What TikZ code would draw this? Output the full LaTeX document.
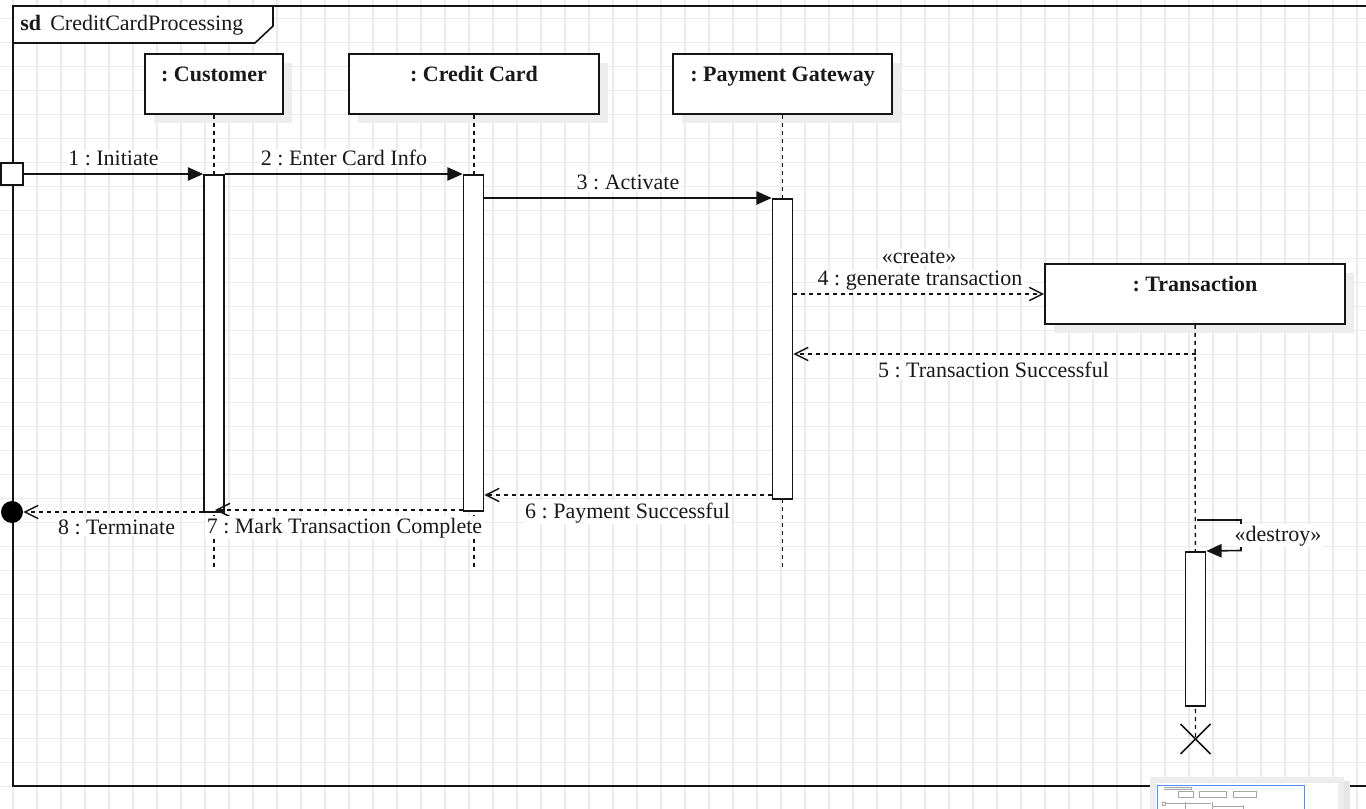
\documentclass[tikz,border=0pt]{standalone}
\usepackage{fontspec}
\setmainfont{Liberation Serif}
\usetikzlibrary{arrows.meta,calc,shadows}
\frenchspacing
\begin{document}
\begin{tikzpicture}[x=0.75pt,y=-0.75pt,
  every node/.style={font=\fontsize{16.5}{19}\selectfont, text=black!90},
  gridline/.style={draw=black!8, line width=1.05pt},
  line/.style={draw=black!92, line width=1.2pt},
  objbox/.style={line, fill=white, rectangle, inner sep=0pt, minimum height=60*0.75pt,
     general shadow={fill=black!7, shadow xshift=7pt, shadow yshift=-7pt}},
  objlabel/.style={anchor=base, font=\fontsize{16.5}{19}\selectfont\bfseries, inner sep=0pt},
  lifeline/.style={draw=black!92, line width=1.1pt, dash pattern=on 3pt off 3pt},
  act/.style={line, fill=white, rectangle, inner sep=0pt, minimum width=20*0.75pt, anchor=north},
  call/.style={line, -{Triangle[length=11.5pt, width=10pt]}},
  reply/.style={line, dash pattern=on 3pt off 3pt, -{Straight Barb[length=10pt, width=10pt, line width=1.1pt]}},
  lbl/.style={fill=white, inner sep=1pt, anchor=base},
]
\useasboundingbox (0,0) rectangle (1366,809);
\clip (0,0) rectangle (1366,809);
\fill[white] (0,0) rectangle (1366,809);

% grid
\foreach \x in {13,37,...,1366} \draw[gridline] (\x,0) -- (\x,809);
\foreach \y in {18.5,42.5,...,809} \draw[gridline] (0,\y) -- (1366,\y);

% frame
\draw[line] (13,6) -- (1400,6);
\draw[line] (13,6) -- (13,786) -- (1400,786);
\draw[line, fill=white] (13,6) -- (273,6) -- (273,26) -- (255,43) -- (13,43) -- cycle;
\node[anchor=base west, inner sep=0pt, font=\fontsize{16.5}{19}\selectfont\bfseries] (sd) at (20,31) {sd};
\node[anchor=base west, inner sep=0pt] (sdname) at (50,31) {CreditCardProcessing};

% lifeline heads
\node[objbox, minimum width=138*0.75pt] (cust) at (214,84) {};
\node[objbox, minimum width=250*0.75pt] (card) at (474,84) {};
\node[objbox, minimum width=219*0.75pt] (gate) at (782.5,84) {};
\node[objbox, minimum width=300*0.75pt] (trans) at (1195,294) {};
\node[objlabel] (custl) at ($(cust.north)+(0,28)$) {: Customer};
\node[objlabel] (cardl) at ($(card.north)+(0,28)$) {: Credit Card};
\node[objlabel] (gatel) at ($(gate.north)+(0,28)$) {: Payment Gateway};
\node[objlabel] (transl) at ($(trans.north)+(0,28)$) {: Transaction};

% lifelines
\coordinate (endC) at (214,570);
\coordinate (endCC) at (474,570);
\coordinate (endPG) at (782.5,570);
\coordinate (xend) at (1195.5,739);
\draw[lifeline] (cust.south) -- (endC);
\draw[lifeline] (card.south) -- (endCC);
\draw[lifeline] (gate.south) -- (endPG);
\draw[lifeline] (trans.south) -- (xend);

% activations
\node[act, minimum height=337*0.75pt] (aC) at (214,174) {};
\node[act, minimum height=336*0.75pt] (aCC) at (473.5,174) {};
\node[act, minimum height=300*0.75pt] (aPG) at (782.5,198) {};
\node[act, minimum height=154*0.75pt] (aT) at (1195.5,551) {};

% found / lost ends
\node[line, fill=white, rectangle, inner sep=0pt, minimum size=22*0.75pt] (found) at (12,174) {};
\node[fill=black, circle, inner sep=0pt, minimum size=22*0.75pt] (lost) at (12,512) {};

% messages
\draw[call] (found.east) -- (aC.north west);
\node[lbl] (m1) at (113.5,166) {1 : Initiate};
\draw[call] (aC.north east) -- (aCC.north west);
\node[lbl] (m2) at (344,166) {2 : Enter Card Info};
\draw[call] (aCC.east |- aPG.north) -- (aPG.north west);
\node[lbl] (m3) at (628,190) {3 : Activate};
\draw[reply] (aPG.east |- trans.west) -- (trans.west);
\node[lbl] (m4) at (920,286) {4 : generate transaction};
\node[lbl] (m4s) at (919,263) {«create»};
\coordinate (t5) at (1195.5,354);
\draw[reply] (t5) -- (aPG.east |- t5);
\node[lbl] (m5) at (993.5,377) {5 : Transaction Successful};
\coordinate (y6) at (0,495);
\draw[reply] (aPG.west |- y6) -- (aCC.east |- y6);
\node[lbl] (m6) at (627.5,518) {6 : Payment Successful};
\coordinate (y7) at (215,510);
\draw[reply] (aCC.west |- y7) -- (y7);
\node[lbl] (m7) at (344.5,533) {7 : Mark Transaction Complete};
\draw[reply] (aC.west |- lost) -- (lost.east);
\node[lbl] (m8) at (116.5,534) {8 : Terminate};

% destroy self message
\coordinate (d0) at (1197,520);
\draw[call] (d0) -- (1241,520) -- (1241,550.5) -- (aT.north east);
\node[lbl] (md) at (1278,541) {«destroy»};

% destruction mark
\draw[line] ($(xend)+(-15,-15)$) -- ($(xend)+(15,15)$);
\draw[line] ($(xend)+(15,-15)$) -- ($(xend)+(-15,15)$);

% outline (minimap) panel
\fill[black!10] (1153,781) rectangle (1350,812);
\fill[black!7] (1150,777) rectangle (1344,812);
\fill[white] (1156,783) rectangle (1338,812);
\draw[draw={rgb,255:red,77;green,144;blue,254}, line width=1pt] (1157.5,785.5) rectangle (1304.5,815);
\begin{scope}[draw=black!35, line width=0.4pt]
  \draw (1164,787) -- (1191,787) -- (1191,789) -- (1164,789);
  \draw (1178,791) rectangle (1193,797);
  \draw (1199,791) rectangle (1226,797);
  \draw (1233,791) rectangle (1256,797);
  \draw (1162,802) rectangle (1165,805);
  \draw (1165,803.5) -- (1185,803.5);
  \draw (1186,803.5) -- (1211,803.5);
  \draw (1213,806) -- (1243,806);
  \draw (1185,802) -- (1185,809);
  \draw (1212,802) -- (1212,809);
  \draw (1243,805) -- (1243,809);
\end{scope}
\end{tikzpicture}
\end{document}
